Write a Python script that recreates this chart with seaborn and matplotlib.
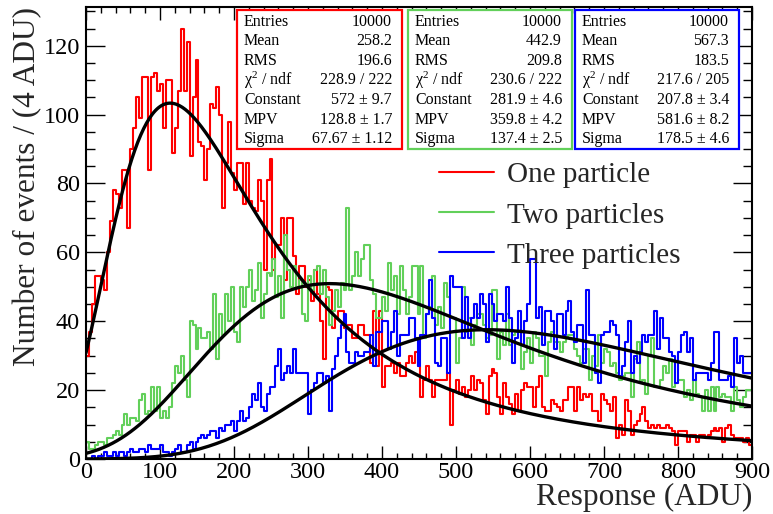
import numpy as np
import pandas as pd
import matplotlib
matplotlib.use("Agg")
import matplotlib.pyplot as plt
import seaborn as sns
from matplotlib.lines import Line2D
from matplotlib.patches import Rectangle
from matplotlib.ticker import MultipleLocator

# ---------------- data ----------------
BIN_WIDTH = 4
X_RANGE = (0, 900)

red_counts = [
    30, 37, 45, 53, 53, 52, 49, 60, 69, 78, 77, 73, 84, 84, 67, 90, 96, 105, 99, 111,
    111, 84, 111, 112, 107, 109, 96, 110, 110, 89, 96, 107, 125, 107, 121, 88, 105, 116, 92, 91,
    81, 90, 103, 102, 108, 100, 73, 86, 98, 83, 78, 86, 86, 74, 86, 75, 73, 72, 81, 75,
    55, 81, 87, 55, 62, 62, 70, 52, 70, 70, 59, 48, 56, 56, 50, 52, 46, 55, 48, 40,
    29, 50, 49, 38, 41, 43, 43, 38, 39, 39, 35, 35, 39, 39, 36, 36, 28, 43, 27, 43,
    21, 27, 27, 28, 25, 28, 24, 24, 28, 30, 28, 31, 27, 18, 23, 27, 23, 18, 23, 23,
    23, 23, 25, 10, 20, 23, 19, 21, 18, 20, 24, 20, 23, 22, 17, 13, 24, 26, 25, 18,
    13, 22, 18, 16, 13, 19, 14, 20, 22, 21, 21, 15, 21, 24, 15, 14, 14, 17, 16, 15,
    14, 17, 17, 21, 21, 14, 21, 17, 19, 18, 19, 14, 14, 11, 19, 17, 16, 14, 18, 6,
    10, 7, 17, 14, 7, 10, 11, 13, 15, 11, 9, 10, 9, 10, 9, 9, 10, 9, 8, 4,
    8, 8, 8, 5, 7, 7, 5, 7, 7, 6, 7, 8, 9, 8, 9, 5, 9, 10, 7, 6,
    6, 6, 5, 6, 4,
]
green_counts = [
    5, 3, 3, 4, 5, 5, 4, 6, 6, 7, 8, 7, 10, 13, 10, 12, 12, 11, 17, 19,
    13, 14, 21, 14, 21, 12, 14, 12, 15, 22, 27, 25, 30, 23, 18, 40, 39, 32, 38, 35,
    35, 37, 32, 48, 29, 42, 36, 48, 40, 50, 37, 34, 50, 44, 50, 55, 46, 49, 57, 41,
    48, 54, 53, 58, 47, 53, 41, 65, 55, 50, 56, 50, 52, 42, 40, 53, 49, 55, 56, 48,
    55, 47, 39, 43, 49, 44, 51, 49, 73, 49, 53, 60, 53, 58, 62, 62, 52, 48, 41, 41,
    47, 43, 57, 49, 53, 42, 56, 49, 42, 47, 56, 56, 42, 56, 35, 42, 44, 53, 39, 44,
    38, 51, 47, 41, 41, 28, 35, 50, 37, 41, 33, 39, 42, 42, 39, 35, 36, 49, 49, 29,
    37, 33, 42, 33, 36, 37, 37, 26, 31, 35, 28, 37, 35, 30, 30, 24, 34, 37, 34, 34,
    31, 34, 35, 36, 36, 32, 30, 28, 32, 32, 23, 30, 27, 36, 28, 32, 31, 27, 28, 25,
    23, 24, 25, 25, 18, 29, 34, 22, 23, 19, 30, 35, 21, 21, 23, 27, 25, 29, 21, 22,
    23, 23, 18, 20, 17, 23, 19, 18, 14, 20, 14, 21, 14, 21, 18, 19, 18, 18, 14, 21,
    17, 15, 18, 20, 20,
]
blue_counts = [
    0, 0, 1, 0, 1, 1, 2, 1, 1, 2, 1, 2, 2, 1, 2, 3, 2, 2, 3, 3,
    2, 4, 3, 3, 3, 4, 2, 2, 1, 2, 3, 4, 2, 2, 4, 5, 3, 5, 6, 7,
    6, 7, 8, 8, 6, 9, 8, 10, 10, 11, 8, 11, 14, 11, 12, 15, 19, 17, 22, 15,
    14, 19, 21, 21, 27, 32, 23, 25, 27, 25, 32, 25, 25, 25, 25, 13, 20, 22, 25, 25,
    22, 24, 14, 26, 30, 35, 39, 42, 31, 28, 28, 31, 30, 30, 31, 31, 36, 27, 37, 37,
    40, 40, 32, 37, 43, 30, 36, 36, 36, 41, 41, 35, 27, 36, 36, 42, 52, 41, 28, 27,
    35, 35, 25, 53, 50, 50, 50, 35, 47, 35, 41, 45, 41, 48, 45, 34, 48, 45, 40, 42,
    42, 40, 50, 41, 28, 35, 43, 33, 40, 45, 58, 58, 41, 44, 33, 43, 43, 40, 32, 42,
    42, 36, 43, 46, 37, 34, 39, 39, 28, 49, 36, 36, 25, 22, 36, 37, 37, 40, 39, 36,
    24, 27, 34, 40, 25, 30, 28, 31, 36, 34, 36, 36, 43, 32, 41, 35, 35, 31, 30, 22,
    31, 36, 37, 31, 35, 23, 25, 25, 25, 25, 23, 28, 37, 37, 23, 23, 23, 24, 21, 35,
    28, 30, 25, 25, 25,
]

series_names = ["One particle", "Two particles", "Three particles"]
series_colors = ["#ff0000", "#62d05a", "#0000ff"]

# Landau fit parameters (from the statistics boxes)
fit_constant = [572.0, 281.9, 207.8]
fit_mpv = [128.8, 359.8, 581.6]
fit_sigma = [67.67, 137.4, 178.5]

stat_labels = ["Entries", "Mean", "RMS", "χ$^{2}$ / ndf", "Constant", "MPV", "Sigma"]
stat_red = ["10000", "258.2", "196.6", "228.9 / 222", "572 ± 9.7", "128.8 ± 1.7", "67.67 ± 1.12"]
stat_green = ["10000", "442.9", "209.8", "230.6 / 222", "281.9 ± 4.6", "359.8 ± 4.2", "137.4 ± 2.5"]
stat_blue = ["10000", "567.3", "183.5", "217.6 / 205", "207.8 ± 3.4", "581.6 ± 8.2", "178.5 ± 4.6"]

x_ticks = [0, 100, 200, 300, 400, 500, 600, 700, 800, 900]
y_ticks = [0, 20, 40, 60, 80, 100, 120]
x_label = "Response (ADU)"
y_label = "Number of events / (4 ADU)"

# ---------------- style ----------------
sns.set_theme(style="ticks")
plt.rcParams["font.family"] = ["Liberation Serif", "DejaVu Serif"]
plt.rcParams["mathtext.fontset"] = "custom"
plt.rcParams["mathtext.rm"] = "Liberation Serif"
plt.rcParams["mathtext.it"] = "Liberation Serif:italic"
plt.rcParams["mathtext.bf"] = "Liberation Serif:bold"

W, H = 773, 514
fig = plt.figure(figsize=(W / 100, H / 100), dpi=100)
AX_L, AX_R, AX_T, AX_B = 86, 752, 7, 459
ax = fig.add_axes([AX_L / W, 1 - AX_B / H, (AX_R - AX_L) / W, (AX_B - AX_T) / H])

# ---------------- histograms ----------------
edges = [float(e) for e in np.arange(X_RANGE[0], X_RANGE[1] + BIN_WIDTH, BIN_WIDTH)]
centers = np.array(edges[:-1]) + BIN_WIDTH / 2
frames = []
for name, counts in zip(series_names, [red_counts, green_counts, blue_counts]):
    frames.append(pd.DataFrame({"response": centers, "count": counts, "sample": name}))
df = pd.concat(frames, ignore_index=True)

for name, color in zip(series_names, series_colors):
    sns.histplot(data=df[df["sample"] == name], x="response", weights="count",
                 bins=edges, element="step", fill=False, color=color,
                 linewidth=1.5, ax=ax)


# ---------------- Landau fits ----------------
_t = np.linspace(0, 60, 120001)[1:]
_sin = np.sin(np.pi * _t)
_lt = np.log(_t)


def landau_density(lam):
    out = np.empty(len(lam))
    for k, l in enumerate(lam):
        out[k] = np.trapezoid(np.exp(-_t * (_lt + l)) * _sin, _t) / np.pi
    return out


xs = np.linspace(X_RANGE[0], X_RANGE[1], 451)
for c, m, s in zip(fit_constant, fit_mpv, fit_sigma):
    ys = c * landau_density((xs - m) / s)
    sns.lineplot(x=xs, y=ys, color="black", linewidth=2.4, estimator=None,
                 sort=False, ax=ax)

# ---------------- axes ----------------
ax.set_xlim(*X_RANGE)
ax.set_ylim(0, 131.25)
ax.set_xticks(x_ticks)
ax.set_yticks(y_ticks)
ax.xaxis.set_minor_locator(MultipleLocator(20))
ax.yaxis.set_minor_locator(MultipleLocator(5))
ax.tick_params(which="both", direction="in", top=True, right=True, width=1.0,
               color="black", labelsize=17.5, labelcolor="black")
ax.tick_params(axis="x", which="major", length=9.4, pad=2.5)
ax.tick_params(axis="x", which="minor", length=4.6)
ax.tick_params(axis="y", which="major", length=13.7, pad=4.3)
ax.tick_params(axis="y", which="minor", length=6.8)
for sp in ax.spines.values():
    sp.set_linewidth(1.5)
    sp.set_color("black")

ax.set_xlabel(x_label, loc="right", fontsize=22.5)
ax.set_ylabel(y_label, loc="top", fontsize=22.5)
ax.xaxis.set_label_coords(1.0, -0.053)
ax.yaxis.set_label_coords(-0.066, 1.0)

# ---------------- legend ----------------
handles = [Line2D([0], [0], color=c, linewidth=1.5) for c in series_colors]
ax.legend(handles, series_names, loc="upper left",
          bbox_to_anchor=((439 - AX_L) / (AX_R - AX_L), (AX_B - 162) / (AX_B - AX_T)),
          frameon=False, fontsize=21, handlelength=1.88, handletextpad=0.45,
          labelspacing=0.47, borderaxespad=0, borderpad=0)

# ---------------- statistics boxes ----------------
boxes = [(236.5, 401.5, stat_red, series_colors[0]),
         (407.5, 571.5, stat_green, series_colors[1]),
         (574.5, 738.5, stat_blue, series_colors[2])]
BOX_T, BOX_B = 9.5, 149.0
for x0, x1, vals, col in boxes:
    fig.add_artist(Rectangle((x0 / W, 1 - BOX_B / H), (x1 - x0) / W, (BOX_B - BOX_T) / H,
                             transform=fig.transFigure, facecolor="white",
                             edgecolor=col, linewidth=1.6, zorder=5))
    for k, (lab, val) in enumerate(zip(stat_labels, vals)):
        yc = 1 - (21.5 + 19.6 * k) / H
        fig.text((x0 + 7.5) / W, yc, lab, ha="left", va="center", fontsize=11.5,
                 color="black", zorder=6)
        fig.text((x1 - 9.5) / W, yc, val, ha="right", va="center", fontsize=11.5,
                 color="black", zorder=6)

fig.savefig("out.png", dpi=100)
